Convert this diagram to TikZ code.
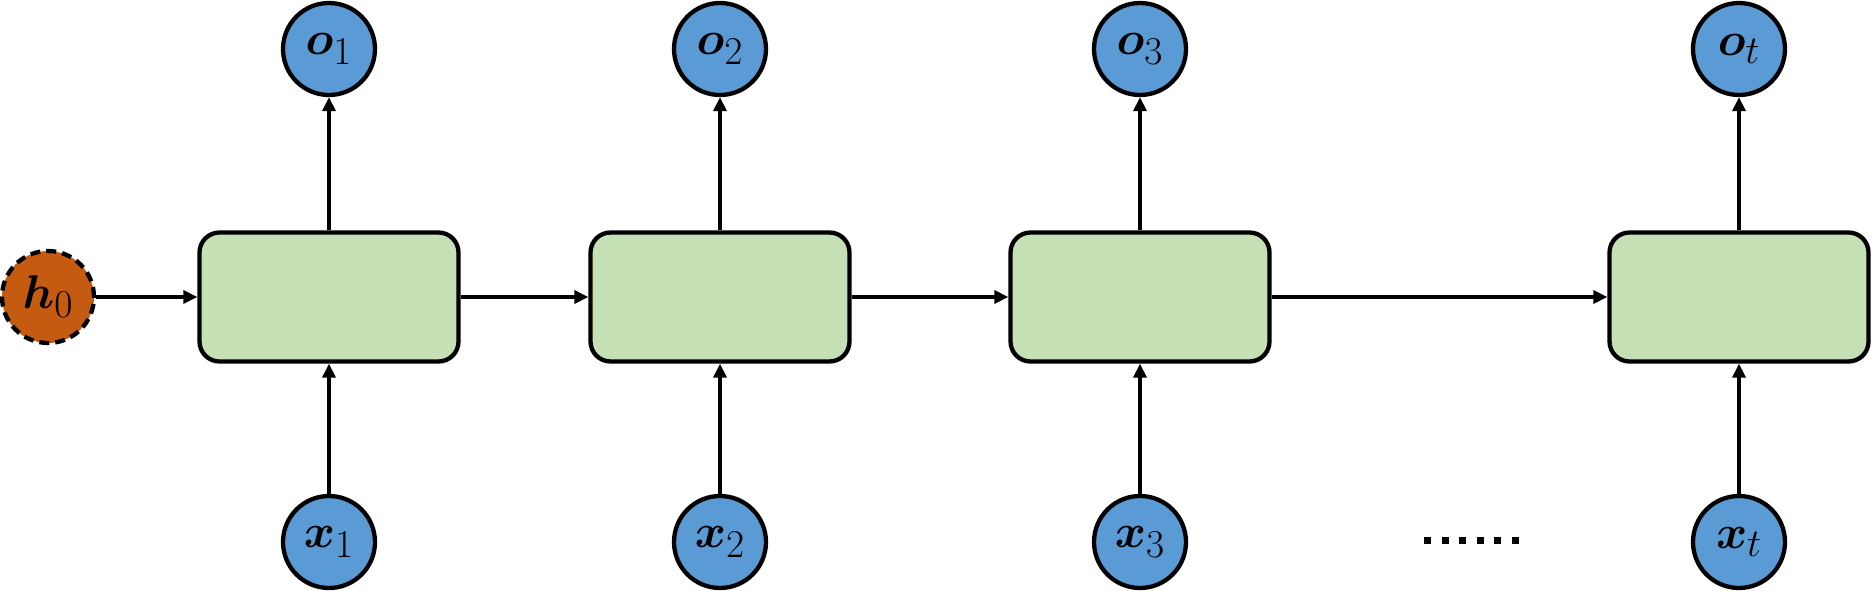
\documentclass[tikz,border=0pt]{standalone}
\usepackage{graphicx}
\usepackage{bm}
\usetikzlibrary{arrows.meta}
\definecolor{cblue}{HTML}{5B9BD5}
\definecolor{cgreen}{HTML}{C5E0B4}
\definecolor{corange}{HTML}{C55A11}
\newcommand{\biglab}[1]{\scalebox{1.9}{$#1$}}
\begin{document}
\begin{tikzpicture}[x=1pt,y=-1pt,line width=4.3pt,
  cell/.style={draw,fill=cgreen,rounded corners=20pt,minimum width=259pt,minimum height=129pt,inner sep=0pt},
  io/.style={circle,draw,fill=cblue,minimum size=92pt,inner sep=0pt,font=\Huge},
  hid/.style={circle,draw,fill=corange,dash pattern=on 10pt off 6pt,minimum size=92pt,inner sep=0pt,font=\Huge},
  arr/.style={-{Triangle[length=14pt,width=13pt]}}]
\useasboundingbox (0,0) rectangle (1873,591);
\node[hid] (h0) at (48,297) {\biglab{\bm{h}_0}};
\foreach \i/\xx/\lab in {1/329/1,2/720/2,3/1140/3,4/1739/t}{
  \node[cell] (c\i) at (\xx,297) {};
  \node[io] (o\i) at (\xx,49) {\biglab{\bm{o}_{\lab}}};
  \node[io] (x\i) at (\xx,542) {\biglab{\bm{x}_{\lab}}};
  \draw[arr] (c\i.north) -- (o\i.south);
  \draw[arr] (x\i.north) -- (c\i.south);
}
\draw[arr] (h0.east) -- (c1.west);
\draw[arr] (c1.east) -- (c2.west);
\draw[arr] (c2.east) -- (c3.west);
\draw[arr] (c3.east) -- (c4.west);
\coordinate (d1) at (1424,540);
\coordinate (d2) at (1519,540);
\draw[line width=7pt,dash pattern=on 7pt off 10.6pt] (d1) -- (d2);
\end{tikzpicture}
\end{document}
